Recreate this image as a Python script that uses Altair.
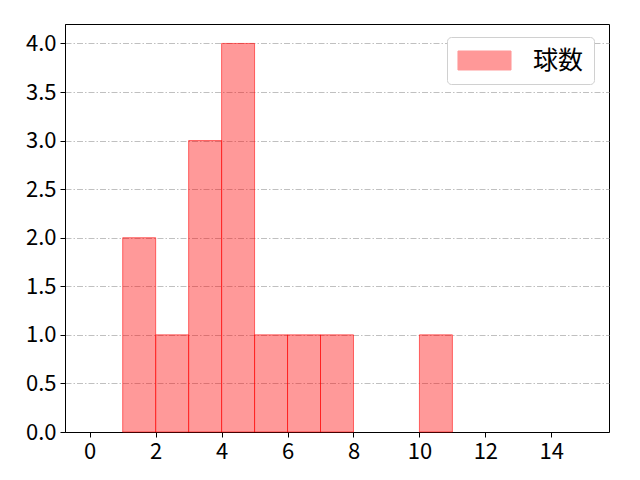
import altair as alt
import pandas as pd

bin_start = [1, 2, 3, 4, 5, 6, 7, 10]
bin_end = [2, 3, 4, 5, 6, 7, 8, 11]
counts = [2, 1, 3, 4, 1, 1, 1, 1]
series = ["球数"] * len(counts)
x_ticks = [0, 2, 4, 6, 8, 10, 12, 14]
y_ticks = [0, 0.5, 1, 1.5, 2, 2.5, 3, 3.5, 4]

df = pd.DataFrame({"start": bin_start, "end": bin_end, "count": counts, "series": series})

FONT = "Noto Sans CJK JP"
axis_style = dict(labelFont=FONT, labelFontSize=22, labelFontWeight="normal", labelColor="black",
                  tickColor="black", domainColor="black", tickSize=5, labelPadding=4, title=None)

bars = alt.Chart(df).mark_rect(
    fillOpacity=0.4, stroke="#ff0000", strokeOpacity=0.55, strokeWidth=1
).encode(
    x=alt.X("start:Q", scale=alt.Scale(domain=[-0.75, 15.75], nice=False, zero=False),
            axis=alt.Axis(values=x_ticks, format="d", grid=False, **axis_style)),
    x2="end:Q",
    y=alt.Y("count:Q", scale=alt.Scale(domain=[0, 4.2], nice=False),
            axis=alt.Axis(values=y_ticks, format=".1f",
                          grid=True, gridColor="#b0b0b0", gridWidth=0.8, gridDash=[6, 2, 1.5, 2],
                          **axis_style)),
    y2=alt.datum(0),
    fill=alt.Fill("series:N", scale=alt.Scale(domain=["球数"], range=["#ff0000"]),
                  legend=alt.Legend(title=None, orient="none", legendX=382, legendY=13,
                                    symbolType="M-2.04,-0.73H2.04V0.73H-2.04Z", symbolSize=676,
                                    symbolOpacity=0.4, symbolStrokeColor="#ff0000", symbolStrokeWidth=1,
                                    labelFontSize=25, labelFont=FONT, labelFontWeight="normal",
                                    labelColor="black", labelOffset=35,
                                    padding=10, strokeColor="#d0d0d0", fillColor="white",
                                    cornerRadius=4, symbolOffset=14)),
)

chart = bars.properties(
    width=544, height=408,
    autosize=alt.AutoSizeParams(type="none"),
    padding={"left": 57, "top": 16, "right": 23, "bottom": 40},
).configure_view(stroke="black", strokeWidth=1)

chart.save("out.html", embed_options={"renderer": "svg", "actions": False})
